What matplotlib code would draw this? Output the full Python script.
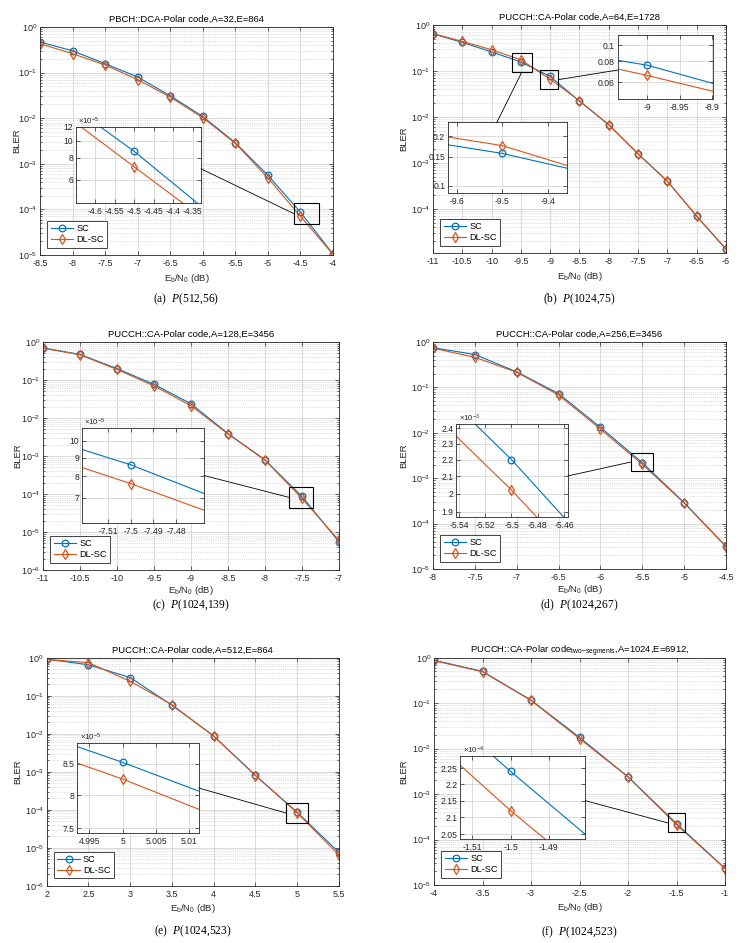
import matplotlib
matplotlib.use("Agg")
import matplotlib.pyplot as plt
from matplotlib.patches import Rectangle, ConnectionPatch
from matplotlib.ticker import FuncFormatter, FixedLocator, NullLocator, LogLocator

plt.rcParams['font.family'] = ['Liberation Sans', 'DejaVu Sans']
plt.rcParams['mathtext.fontset'] = 'custom'
plt.rcParams['mathtext.rm'] = 'Liberation Sans'
plt.rcParams['mathtext.it'] = 'Liberation Serif:italic'
plt.rcParams['axes.unicode_minus'] = False

SC_COLOR = '#0072BD'
DL_COLOR = '#D95319'
DARK = '#262626'
W, H = 748, 943

# ---- data ----
ebn0_a = [-8.5, -8, -7.5, -7, -6.5, -6, -5.5, -5, -4.5, -4]
sc_a = [0.47, 0.30, 0.157, 0.080, 0.031, 0.0109, 0.0029, 5.6e-4, 8.7e-5, 1.05e-5]
dl_a = [0.43, 0.26, 0.147, 0.070, 0.029, 0.0103, 0.0028, 4.9e-4, 7.1e-5, 1.03e-5]

ebn0_b = [-11, -10.5, -10, -9.5, -9, -8.5, -8, -7.5, -7, -6.5, -6]
sc_b = [0.64, 0.42, 0.26, 0.157, 0.076, 0.022, 0.0067, 0.00158, 4.0e-4, 6.9e-5, 1.33e-5]
dl_b = [0.65, 0.44, 0.29, 0.175, 0.066, 0.0225, 0.0068, 0.00157, 4.0e-4, 7.0e-5, 1.35e-5]

ebn0_c = [-11, -10.5, -10, -9.5, -9, -8.5, -8, -7.5, -7]
sc_c = [0.70, 0.47, 0.20, 0.0766, 0.0237, 0.0039, 7.9e-4, 8.6e-5, 5.5e-6]
dl_c = [0.69, 0.46, 0.19, 0.070, 0.021, 0.0038, 7.8e-4, 7.65e-5, 6.0e-6]

ebn0_d = [-8, -7.5, -7, -6.5, -6, -5.5, -5, -4.5]
sc_d = [0.75, 0.53, 0.22, 0.073, 0.0132, 2.2e-3, 2.9e-4, 3.15e-5]
dl_d = [0.73, 0.46, 0.215, 0.068, 0.0121, 2.02e-3, 2.85e-4, 3.1e-5]

ebn0_e = [2, 2.5, 3, 3.5, 4, 4.5, 5, 5.5]
sc_e = [0.92, 0.65, 0.30, 0.056, 0.0087, 8.0e-4, 8.52e-5, 7.5e-6]
dl_e = [0.90, 0.74, 0.24, 0.058, 0.0086, 7.9e-4, 8.25e-5, 6.4e-6]

ebn0_f = [-4, -3.5, -3, -2.5, -2, -1.5, -1]
sc_f = [0.88, 0.50, 0.117, 0.0177, 2.4e-3, 2.24e-4, 2.32e-5]
dl_f = [0.86, 0.49, 0.115, 0.0166, 2.38e-3, 2.12e-4, 2.30e-5]

titles = [
    "PBCH::DCA-Polar code,A=32,E=864",
    "PUCCH::CA-Polar code,A=64,E=1728",
    "PUCCH::CA-Polar code,A=128,E=3456",
    "PUCCH::CA-Polar code,A=256,E=3456",
    "PUCCH::CA-Polar code,A=512,E=864",
    r"PUCCH::CA-Polar code$_{\mathrm{two\!-\!segments}}$,A=1024,E=6912,",
]
captions = ["(a)  $P$(512,56)", "(b)  $P$(1024,75)", "(c)  $P$(1024,139)",
            "(d)  $P$(1024,267)", "(e)  $P$(1024,523)", "(f)  $P$(1024,523)"]


def frac(left, top, right, bottom):
    return [left / W, 1 - bottom / H, (right - left) / W, (bottom - top) / H]


def gfmt(v, p):
    return f"{v:g}"


def plot_lines(ax, x, sc, dl):
    ax.plot(x, sc, '-o', color=SC_COLOR, mfc='none', ms=4.8, mew=0.9, lw=0.8, label='SC')
    ax.plot(x, dl, '-d', color=DL_COLOR, mfc='none', ms=4.8, mew=0.9, lw=0.8, label='DL-SC')


def style_ax(ax, size):
    ax.tick_params(which='both', direction='in', top=True, right=True,
                   color=DARK, labelcolor=DARK, width=0.5, labelsize=size, pad=2)
    ax.tick_params(axis='x', which='both', pad=3)
    ax.tick_params(which='major', length=3)
    ax.tick_params(which='minor', length=1.5)
    for s in ax.spines.values():
        s.set_linewidth(0.6)
        s.set_color(DARK)
    ax.set_axisbelow(True)


fig = plt.figure(figsize=(W / 100, H / 100), dpi=100)


def panel(rect, x, sc, dl, title, ylo, caption, cap_y, ylab_off, xlab_off):
    ax = fig.add_axes(frac(*rect))
    wpx = rect[2] - rect[0]
    hpx = rect[3] - rect[1]
    plot_lines(ax, x, sc, dl)
    ax.set_yscale('log')
    ax.set_xlim(x[0], x[-1])
    ax.set_ylim(ylo, 1)
    ax.set_xticks(x)
    ax.xaxis.set_major_formatter(FuncFormatter(gfmt))
    ax.yaxis.set_major_locator(LogLocator(base=10, numticks=20))
    ax.yaxis.set_minor_locator(LogLocator(base=10, subs=range(2, 10), numticks=20))
    ax.grid(which='major', color='#d6d6d6', lw=0.6, ls='-')
    ax.grid(which='minor', axis='y', color='#c0c0c0', lw=0.5, ls=':')
    style_ax(ax, 6.5)
    ax.set_title(title, fontsize=6.8, color='black', pad=3.5)
    ax.set_xlabel(r"E$_\mathrm{b}$/N$_\mathrm{0}$ (dB)", fontsize=6.8, color=DARK)
    ax.set_ylabel("BLER", fontsize=6.8, color=DARK)
    ax.xaxis.set_label_coords(0.5, -xlab_off / hpx)
    ax.yaxis.set_label_coords(-ylab_off / wpx, 0.5)
    leg = ax.legend(loc='lower left', fontsize=6.6, fancybox=False, framealpha=1,
                    edgecolor=DARK, handlelength=2.5, handletextpad=0.3,
                    labelspacing=0.25, borderpad=0.35, borderaxespad=0.8)
    leg.get_frame().set_linewidth(0.6)
    cx = (rect[0] + rect[2]) / 2 / W
    fig.text(cx, 1 - cap_y / H, caption, ha='center', va='center', fontsize=8.3,
             family='Liberation Serif')
    return ax


def inset(ax, rect, x, sc, dl, xlim, ylim, xticks, yticks, scale, expo,
          box, ins_pt, box_side):
    ins = fig.add_axes(frac(*rect))
    ins.set_facecolor('white')
    plot_lines(ins, x, sc, dl)
    ins.set_yscale('log')
    ins.set_xlim(xlim)
    ins.set_ylim(ylim)
    ins.xaxis.set_major_locator(FixedLocator(xticks))
    ins.xaxis.set_major_formatter(FuncFormatter(gfmt))
    ins.yaxis.set_major_locator(FixedLocator(yticks))
    ins.yaxis.set_minor_locator(NullLocator())
    ins.yaxis.set_major_formatter(FuncFormatter(lambda v, p: f"{v / scale:g}"))
    ins.grid(which='major', color='#d6d6d6', lw=0.6, ls='-')
    style_ax(ins, 6.2)
    if expo:
        ins.text(0.02, 1.0, r"$\times10^{%d}$" % expo, transform=ins.transAxes,
                 fontsize=5.6, color=DARK, va='bottom', ha='left')
    x0, x1, y0, y1 = box
    ax.add_patch(Rectangle((x0, y0), x1 - x0, y1 - y0, fill=False, ec='black', lw=0.8, zorder=5))
    ym = (y0 * y1) ** 0.5
    if box_side == 'left':
        bpt = (x0, ym)
    elif box_side == 'right':
        bpt = (x1, ym)
    else:
        bpt = ((x0 + x1) / 2, y0)
    con = ConnectionPatch(xyA=ins_pt, coordsA=ins.transAxes, xyB=bpt, coordsB=ax.transData,
                          color='black', lw=0.6)
    fig.add_artist(con)
    return ins


# (a)
ax_a = panel((40, 27, 333, 255), ebn0_a, sc_a, dl_a, titles[0], 1e-5, captions[0], 299, 19, 17)
inset(ax_a, (76, 127, 201, 203), ebn0_a, sc_a, dl_a, (-4.649, -4.329), (4.4e-5, 1.2e-4),
      [-4.6, -4.55, -4.5, -4.45, -4.4, -4.35], [6e-5, 8e-5, 10e-5, 12e-5], 1e-5, -5,
      (-4.606, -4.22, 4.9e-5, 1.35e-4), (1, 0.45), 'left')

# (b)
ax_b = panel((433, 25, 726, 253), ebn0_b, sc_b, dl_b, titles[1], 1.1e-5, captions[1], 299, 25, 17)
inset(ax_b, (617.7, 35, 713, 98.7), ebn0_b, sc_b, dl_b, (-9.0456, -8.899), (0.048, 0.115),
      [-9, -8.95, -8.9], [0.06, 0.08, 0.1], 1, 0,
      (-9.176, -8.86, 0.040, 0.105), (0, 0.45), 'right')
inset(ax_b, (448, 122.3, 567.3, 192.7), ebn0_b, sc_b, dl_b, (-9.619, -9.358), (0.091, 0.242),
      [-9.6, -9.5, -9.4], [0.1, 0.15, 0.2], 1, 0,
      (-9.66, -9.307, 0.095, 0.248), (0.41, 1), 'bottom')

# (c)
ax_c = panel((43, 342, 339, 570), ebn0_c, sc_c, dl_c, titles[2], 1e-6, captions[2], 605, 21, 14)
inset(ax_c, (81.7, 428.3, 204, 522.7), ebn0_c, sc_c, dl_c, (-7.5218, -7.4676), (6.0e-5, 1.08e-4),
      [-7.51, -7.5, -7.49, -7.48], [7e-5, 8e-5, 9e-5, 10e-5], 1e-5, -5,
      (-7.672, -7.347, 4.2e-5, 1.57e-4), (1, 0.5), 'left')

# (d)
ax_d = panel((433, 342, 726, 569), ebn0_d, sc_d, dl_d, titles[3], 1e-5, captions[3], 605, 25, 14)
inset(ax_d, (456.3, 424, 568, 516.7), ebn0_d, sc_d, dl_d, (-5.542, -5.457), (1.875e-3, 2.43e-3),
      [-5.54, -5.52, -5.5, -5.48, -5.46], [1.9e-3, 2.0e-3, 2.1e-3, 2.2e-3, 2.3e-3, 2.4e-3],
      1e-3, -3, (-5.636, -5.368, 1.44e-3, 3.59e-3), (1, 0.44), 'left')

# (e)
ax_e = panel((46.7, 657.7, 339, 885.7), ebn0_e, sc_e, dl_e, titles[4], 1e-6, captions[4], 931, 24, 16)
inset(ax_e, (77.3, 742.7, 198.7, 833.3), ebn0_e, sc_e, dl_e, (4.9932, 5.0114), (7.43e-5, 8.85e-5),
      [4.995, 5, 5.005, 5.01], [7.5e-5, 8e-5, 8.5e-5], 1e-5, -5,
      (4.865, 5.132, 4.37e-5, 1.53e-4), (1, 0.5), 'left')

# (f)
ax_f = panel((434, 657.7, 725, 885), ebn0_f, sc_f, dl_f, titles[5], 1e-5, captions[5], 932, 26, 16)
inset(ax_f, (460, 755.7, 585.3, 839), ebn0_f, sc_f, dl_f, (-1.5132, -1.4805), (2.037e-4, 2.29e-4),
      [-1.51, -1.5, -1.49], [2.05e-4, 2.1e-4, 2.15e-4, 2.2e-4, 2.25e-4], 1e-4, -4,
      (-1.592, -1.413, 1.44e-4, 3.77e-4), (1, 0.46), 'left')

fig.savefig("out.png", dpi=100)
